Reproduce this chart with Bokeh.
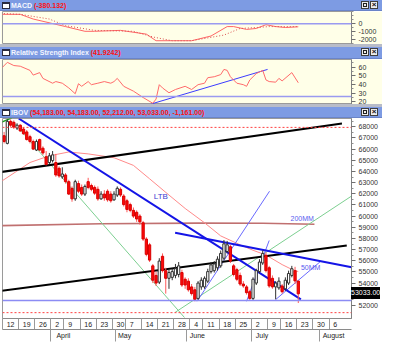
from bokeh.plotting import figure
from bokeh.layouts import column
from bokeh.models import ColumnDataSource, Range1d, LinearAxis, FixedTicker, Span, Div
from bokeh.core.properties import value
from bokeh.embed import file_html
from bokeh.resources import INLINE

# ---------------- data (IBOV daily, trading-day index t) ----------------
t_idx = list(range(92))
open_ = [67203, 66517, 68489, 68403, 67889, 68146, 67803, 67546, 67117, 66689,
         65917, 66860, 66088, 65317, 64802, 64974, 64802, 64288, 63516, 63688,
         63087, 62487, 61544, 62916, 62573, 61973, 63087, 62744, 62573, 62401,
         61544, 61973, 62230, 61973, 61458, 61887, 62401, 61801, 61373, 61030,
         60515, 60344, 60001, 59401, 57944, 57429, 55542, 54685, 54085, 56400,
         55113, 54427, 54513, 54685, 54770, 54942, 54342, 54170, 53656, 53398,
         52626, 53656, 53656, 54170, 55028, 55113, 55371, 55542, 56228, 56829,
         57257, 55542, 55199, 54685, 53913, 53656, 53227, 52626, 53999, 55028,
         55800, 56486, 55371, 54427, 53656, 53570, 53741, 53484, 53999, 54685,
         55113, 54183]
high = [67546, 68660, 68660, 68575, 68317, 68232, 67975, 67717, 67289, 66860,
        66860, 66946, 66260, 65831, 65660, 65831, 65574, 64459, 64373, 63859,
        63259, 62659, 63259, 63173, 62830, 62830, 63430, 62916, 62744, 62659,
        62230, 62316, 62401, 62230, 62230, 62659, 62573, 61973, 61544, 61201,
        60772, 60515, 60172, 59572, 58115, 57600, 55714, 55028, 56228, 56657,
        55371, 55199, 55285, 55714, 55885, 55199, 54513, 54427, 53913, 53656,
        54170, 54513, 54599, 55285, 55885, 55971, 56400, 56914, 57858, 57772,
        57429, 55714, 55371, 54942, 54170, 53827, 53398, 54513, 55285, 56143,
        56914, 56743, 55542, 54685, 54170, 54513, 53913, 54513, 55113, 55542,
        55457, 54183]
low = [66517, 66431, 67975, 67803, 67717, 67546, 67289, 66774, 66517, 65917,
       65831, 65831, 65488, 64545, 64631, 64802, 63516, 63430, 63344, 62916,
       61887, 61287, 61373, 62059, 61801, 61801, 62401, 62230, 61887, 61373,
       61458, 61373, 61287, 61201, 61373, 61716, 61716, 60858, 60344, 60344,
       59829, 59487, 59230, 57772, 56400, 55885, 53999, 53741, 53913, 54942,
       53055, 53484, 54256, 54427, 54513, 53656, 53484, 53227, 52884, 52369,
       52455, 53398, 53484, 53999, 54856, 54942, 55113, 55371, 56057, 56657,
       55800, 54599, 54170, 53741, 53570, 52969, 52455, 52455, 53827, 54856,
       55628, 54942, 53570, 53484, 52541, 53398, 53055, 53312, 53827, 54513,
       53913, 52212]
close = [66689, 68489, 68146, 67975, 68146, 67632, 67374, 66860, 66689, 66003,
         66689, 65917, 65660, 64631, 65402, 65488, 63688, 63602, 63773, 63087,
         61973, 61544, 63087, 62230, 61973, 62659, 62573, 62401, 62059, 61544,
         61973, 61630, 61458, 61373, 61973, 62487, 61887, 61030, 60601, 60515,
         60001, 59744, 59487, 57944, 56571, 56057, 54256, 53999, 55971, 55113,
         54427, 54942, 55028, 55285, 55542, 53827, 53827, 53398, 53055, 52541,
         53999, 54256, 54427, 55028, 55628, 55714, 56143, 56657, 57515, 57429,
         55971, 54770, 54342, 53913, 53741, 53141, 52626, 54342, 55113, 55885,
         56657, 55113, 53741, 53656, 53999, 54170, 53227, 54256, 54856, 55285,
         54194, 53033]

# moving averages
ma50_t = [-1, 8, 14, 20, 26, 34, 40, 45, 51, 56, 62, 67, 73, 77, 81, 86, 89, 91]
ma50_v = [63087, 64802, 65402, 65745, 65574, 65231, 64545, 63344, 61887, 60686,
          59401, 58226, 57428, 56939, 56511, 55654, 55225, 55028]
ma200_t = [-1, 30, 60, 80, 96]
ma200_v = [59144, 59315, 59373, 59356, 59270]

# drawn trend lines: (t0, t1), (p0, p1)
upper_chan_t, upper_chan_p = [-1.1, 104.5], [63945, 68292]
lower_chan_t, lower_chan_p = [-1.1, 106.0], [53287, 57369]
ltb_t, ltb_p = [4.5, 91.8], [68746, 52541]
resist_t, resist_p = [52.9, 107.5], [58517, 55414]
fan1_t, fan1_p = [59.7, 82.1], [52369, 62230]
fan2_t, fan2_p = [75.0, 82.0], [52369, 57815]
fan3_t, fan3_p = [84.0, 97.7], [52523, 55894]
green_dn_t, green_dn_p = [2.7, 55.8], [68489, 50912]
green_up_t, green_up_p = [52.9, 107.5], [51375, 61801]
green_top_t, green_top_p = [-1.1, 2.4], [68377, 68800]
top_level = 67950
bottom_level = 51350
support_level = 52430
chg_last = -1161.00

# chart annotations (label text, t, price)
notes = [("LTB", 48.5, 61800), ("200MM", 88.6, 59830), ("50MM", 91.8, 55371)]

# MACD
macd_t = [-1, 5, 9, 19, 25, 28, 36, 44, 47, 52, 58, 64, 69, 71, 75, 78, 81, 84, 87, 91]
macd_v = [1176, 1176, 588, -353, -941, -941, -824, -1294, -2118, -2118, -2118, -1529,
          -353, -353, -706, -588, -118, -353, -470, -380.132]
sig_t = [-1, 5, 14, 19, 28, 40, 46, 52, 58, 68, 73, 78, 82, 91]
sig_v = [1294, 1176, 588, -235, -824, -941, -1647, -2118, -2118, -1412, -588, -470, -353, -353]
macd_ref = 0
macd_ticks = [0, -1000, -2000]

# RSI
rsi_t = [-1, 1, 3, 5, 8, 9, 11, 12, 15, 16, 18, 20, 22, 23, 24, 26, 27, 29, 31, 33, 34, 35,
         37, 38, 40, 43, 46, 47, 48, 49, 51, 53, 56, 58, 60, 62, 63, 65, 67, 68, 69, 70,
         72, 74, 75, 76, 78, 79, 80, 81, 82, 84, 85, 86, 89, 91]
rsi_v = [58, 65.6, 61.9, 61.1, 56.3, 50.8, 53.7, 47, 41.4, 43.3, 41.4, 35.9, 29.2, 40.8,
         37.8, 43.3, 39.7, 41.4, 43.3, 41.4, 43.3, 47, 37.8, 35.9, 32.2, 24.8, 18.1, 23,
         39.7, 35.9, 30.3, 34.1, 37.8, 34.1, 39.7, 41.4, 47.8, 48.9, 51.4, 57.4, 56.3,
         48.9, 41.4, 39.7, 37.8, 45.2, 52.6, 54.4, 56.3, 45.2, 43.3, 42.6, 47, 44.1,
         53.7, 41.9242]
rsi_trend_t, rsi_trend_v = [45.6, 81.5], [17.4, 57.4]
rsi_ref = 26
rsi_ticks = [20, 30, 40, 50, 60]

# date axis
week_start = [0, 5, 10, 15, 19, 24, 29, 34, 38, 43, 48, 53, 58, 62, 67, 72, 77, 82, 86, 91, 96, 101]
week_label = ["12", "19", "26", "2", "9", "16", "23", "30", "7", "14", "21", "28",
              "4", "11", "18", "25", "2", "9", "16", "23", "30", "6"]
month_start = [15, 35, 57, 77, 98]
month_label = ["April", "May", "June", "July", "August"]
price_ticks = list(range(52000, 69000, 1000))

# ---------------- layout ----------------
FONT = "Liberation Sans"
W = 382
FRAME_W = 349
BAR = "#7d9be3"
SEP = "#b8bcc8"
YEL = "#ffffe8"
H = dict(t1=11, p1=33, t2=15, p2=45, t3=14, p3=225)
P3_AXIS = 25
xr = Range1d(-0.5, 107.46)
yr3 = Range1d(50825, 68746)
DIV_STYLES = {"font-size": "0px", "line-height": "0px", "overflow": "visible"}


def title_div(height, gray, name, val_text):
    bh = height - gray
    html = (
        f'<div style="position:relative;display:block;width:{W}px;height:{height}px;'
        f'background:{SEP};overflow:hidden;font-family:\'{FONT}\';">'
        f'<div style="position:absolute;left:0px;top:{gray}px;width:{W}px;height:{bh}px;'
        f'background:{BAR};border-bottom:1px solid #6a84c8;box-sizing:border-box;"></div>'
        f'<div style="position:absolute;left:2px;top:{gray + 2}px;width:8px;height:7px;'
        f'box-sizing:border-box;background:#ffffff;border:1px solid #2a2a40;'
        f'border-top:2px solid #2a2a40;"></div>'
        f'<div style="position:absolute;left:11px;top:{gray}px;height:{bh}px;'
        f'line-height:{bh}px;font-size:7px;font-weight:bold;white-space:nowrap;">'
        f'<span style="color:#f4f6ff;">{name}</span> '
        f'<span style="color:#ff1010;">{val_text}</span></div>'
        f'<div style="position:absolute;left:361px;top:{gray + 1}px;width:8px;height:8px;'
        f'box-sizing:border-box;background:#ececec;border:1px solid #404040;">'
        f'<div style="position:absolute;left:1px;top:1px;width:4px;height:4px;'
        f'border:1px solid #202020;"></div></div>'
        f'<div style="position:absolute;left:370px;top:{gray + 1}px;width:8px;height:8px;'
        f'box-sizing:border-box;background:#ececec;border:1px solid #404040;'
        f'font-size:8px;line-height:6px;text-align:center;font-weight:bold;color:#101010;">'
        f'&#215;</div>'
        f'</div>')
    return Div(text=html, width=W, height=height, margin=0, styles=DIV_STYLES)


def style_panel(p, bg):
    p.background_fill_color = bg
    p.border_fill_color = bg
    p.outline_line_color = "#9a9a9a"
    p.grid.visible = False
    ax = p.yaxis[0]
    ax.axis_line_color = "#808080"
    ax.major_tick_out = 4
    ax.major_tick_in = 0
    ax.minor_tick_out = 2
    ax.minor_tick_in = 0
    ax.major_tick_line_color = "#707070"
    ax.minor_tick_line_color = "#909090"
    ax.major_label_text_font = FONT
    ax.major_label_text_font_size = "7px"
    ax.major_label_text_color = "#333333"
    ax.major_label_standoff = 3


def panel(height, yr, bottom=0, bg=YEL):
    p = figure(width=W, height=height, x_range=xr, y_range=yr, toolbar_location=None,
               output_backend="svg", x_axis_location=None, y_axis_location="right",
               min_border_left=2, min_border_right=W - 2 - FRAME_W, min_border_top=0,
               min_border_bottom=bottom)
    style_panel(p, bg)
    return p


# MACD
t1 = title_div(H["t1"], 0, "MACD", f"({macd_v[-1]:.3f})")
p1 = panel(H["p1"], Range1d(-2588, 1529))
p1.yaxis.ticker = FixedTicker(ticks=macd_ticks, minor_ticks=[-2500, -1500, -500, 500, 1000, 1500])
p1.yaxis.major_label_overrides = {v: str(v) for v in macd_ticks}
p1.add_layout(Span(location=macd_ref, dimension="width", line_color="#9a9af0", line_width=1.5))
p1.line(macd_t, macd_v, line_color="#ff6464", line_width=1)
p1.line(sig_t, sig_v, line_color="#d85050", line_width=1, line_dash="1 2")

# RSI
t2 = title_div(H["t2"], 3, "Relative Strength Index", f"({rsi_v[-1]:.4f})")
p2 = panel(H["p2"], Range1d(16.7, 68.9))
p2.yaxis.ticker = FixedTicker(ticks=rsi_ticks, minor_ticks=[25, 35, 45, 55, 65])
p2.add_layout(Span(location=rsi_ref, dimension="width", line_color="#9a9af0", line_width=1.5))
p2.line(rsi_trend_t, rsi_trend_v, line_color="#3c3cff", line_width=1)
p2.line(rsi_t, rsi_v, line_color="#ff6a6a", line_width=1)

# IBOV
ibov_txt = (f"({open_[-1]:,.2f}, {high[-1]:,.2f}, {low[-1]:,.2f}, "
            f"{close[-1]:,.2f}, {chg_last:,.2f})")
t3 = title_div(H["t3"], 3, "IBOV", ibov_txt)
p3 = panel(H["p3"], yr3, bottom=P3_AXIS, bg="white")
axis_ticks = [v for v in price_ticks if abs(v - close[-1]) > 600]
p3.yaxis.ticker = FixedTicker(ticks=axis_ticks, minor_ticks=[v + 500 for v in price_ticks])

p3.add_layout(Span(location=top_level, dimension="width", line_color="#ff4040",
                   line_width=1, line_dash="2 2"))
p3.add_layout(Span(location=bottom_level, dimension="width", line_color="#ff4040",
                   line_width=1, line_dash="2 2"))
p3.add_layout(Span(location=support_level, dimension="width", line_color="#8c8cf4",
                   line_width=1.5))

p3.line(ma200_t, ma200_v, line_color="#c07070", line_width=1.6)
p3.line(ma50_t, ma50_v, line_color="#ff8a8a", line_width=1)

for tt, pp, col, lw in [(green_dn_t, green_dn_p, "#7ccf90", 1),
                        (green_up_t, green_up_p, "#7ccf90", 1),
                        (green_top_t, green_top_p, "#1a9a1a", 1.5),
                        (fan1_t, fan1_p, "#6a6aff", 1),
                        (fan2_t, fan2_p, "#6a6aff", 1),
                        (fan3_t, fan3_p, "#6a6aff", 1),
                        (upper_chan_t, upper_chan_p, "#000000", 2),
                        (lower_chan_t, lower_chan_p, "#000000", 2),
                        (ltb_t, ltb_p, "#1414e6", 2),
                        (resist_t, resist_p, "#1414e6", 2)]:
    p3.line(tt, pp, line_color=col, line_width=lw)

up = [c >= o for o, c in zip(open_, close)]
src = ColumnDataSource(dict(
    t=t_idx, o=open_, h=high, l=low, c=close,
    fill=["white" if u else "#ff0a0a" for u in up],
    edge=["#303030" if u else "#d80000" for u in up],
    wick=["#303030" if u else "#ff5a5a" for u in up],
))
p3.segment(x0="t", y0="h", x1="t", y1="l", source=src, line_color="wick", line_width=1)
p3.vbar(x="t", top="o", bottom="c", width=0.7, source=src, fill_color="fill",
        line_color="edge", line_width=1)

p3.text(x=[notes[0][1]], y=[notes[0][2]], text=[notes[0][0]], text_font=value(FONT),
        text_font_size=value("8px"), text_color="#3a3ad0", text_align="center",
        text_baseline="middle")
p3.text(x=[n[1] for n in notes[1:]], y=[n[2] for n in notes[1:]],
        text=[n[0] for n in notes[1:]], text_font=value(FONT),
        text_font_size=value("7px"), text_color="#5a5af0", text_align="left",
        text_baseline="middle")

# date axes (separators drawn as minor ticks, labels pulled back into the row)
day_ticks = [s + (2.0 if len(lb) == 2 else 1.45) for s, lb in zip(week_start, week_label)]
day_axis = LinearAxis(ticker=FixedTicker(ticks=day_ticks,
                                         minor_ticks=[s - 0.5 for s in week_start]))
day_axis.major_label_overrides = {tk: lb for tk, lb in zip(day_ticks, week_label)}
mon_ticks = [s + len(lb) * 0.55 + 0.6 for s, lb in zip(month_start, month_label)]
mon_axis = LinearAxis(ticker=FixedTicker(ticks=mon_ticks,
                                         minor_ticks=[s - 0.5 for s in month_start]))
mon_axis.major_label_overrides = {tk: lb for tk, lb in zip(mon_ticks, month_label)}
for ax, mt, so in [(day_axis, 11, -8), (mon_axis, 12, -10)]:
    ax.axis_line_color = "#8a8a8a"
    ax.major_tick_out = 0
    ax.major_tick_in = 0
    ax.minor_tick_out = mt
    ax.minor_tick_in = 0
    ax.minor_tick_line_color = "#9a9a9a"
    ax.major_label_text_font = FONT
    ax.major_label_text_font_size = "7px"
    ax.major_label_text_color = "#222222"
    ax.major_label_standoff = so
    p3.add_layout(ax, "below")

# last-price tag on the price scale (black box at the last close)
frame3_top = H["t1"] + H["p1"] + H["t2"] + H["p2"] + H["t3"]
frame3_h = H["p3"] - P3_AXIS
total_h = sum(H.values())
y_last = frame3_top + (yr3.end - close[-1]) / (yr3.end - yr3.start) * frame3_h
tag = Div(text=(
    f'<div style="position:relative;display:block;width:{W}px;height:0px;overflow:visible;">'
    f'<div style="position:absolute;left:{2 + FRAME_W}px;top:{y_last - total_h - 6:.1f}px;'
    f'width:29px;height:12px;background:#000000;color:#ffffff;font-family:\'{FONT}\';'
    f'font-size:7px;line-height:12px;text-align:center;z-index:20;">'
    f'{close[-1]:.2f}</div></div>'),
    width=W, height=0, margin=0, styles=dict(DIV_STYLES, **{"z-index": "20"}))

layout = column([t1, p1, t2, p2, t3, p3, tag], spacing=0)
open("out.html", "w").write(file_html(layout, INLINE))
